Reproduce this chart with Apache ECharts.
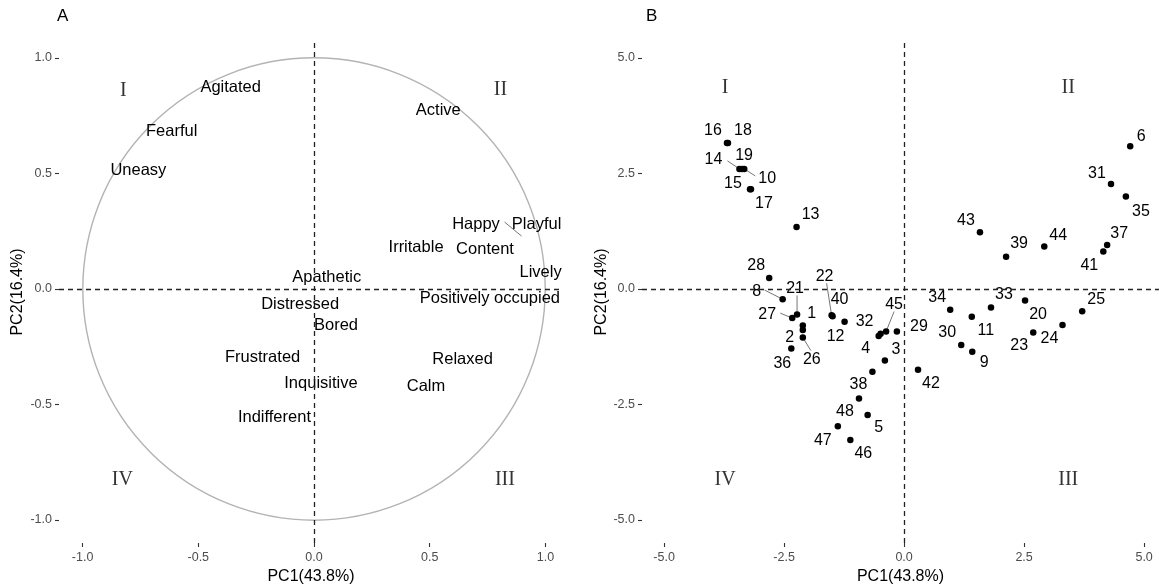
<!DOCTYPE html>
<html>
<head>
<meta charset="utf-8">
<script src="https://cdn.jsdelivr.net/npm/echarts@6/dist/echarts.min.js"></script>
<style>html,body{margin:0;padding:0;background:#fff;}#c{width:1159px;height:584px;}</style>
</head>
<body>
<div id="c"></div>
<script>
// ---------- DATA ----------
const pc1Title = 'PC1(43.8%)';
const pc2Title = 'PC2(16.4%)';
const panelLetters = ['A', 'B'];
const quadrantNames = ['I', 'II', 'III', 'IV'];

// Panel A: variable (behaviour) positions on PC1/PC2
const variableNames = ['Agitated','Fearful','Uneasy','Active','Happy','Playful','Irritable','Content','Lively','Apathetic','Positively occupied','Distressed','Bored','Frustrated','Relaxed','Inquisitive','Calm','Indifferent'];
const variablePC1 = [-0.36,-0.615,-0.759,0.537,0.70,0.962,0.441,0.739,0.979,0.055,0.760,-0.060,0.095,-0.222,0.642,0.030,0.484,-0.171];
const variablePC2 = [0.873,0.684,0.512,0.771,0.281,0.281,0.179,0.172,0.072,0.052,-0.040,-0.065,-0.159,-0.296,-0.304,-0.411,-0.420,-0.557];
const happyPointPC1 = 0.897, happyPointPC2 = 0.229;
const circleRadius = 1;
const quadrantPC1A = [-0.824, 0.806, 0.825, -0.828];
const quadrantPC2A = [0.857, 0.861, -0.827, -0.827];
const ticksA = [-1, -0.5, 0, 0.5, 1];

// Panel B: individual scores
const sampleIds = ['1','2','3','4','5','6','8','9','10','11','12','13','14','15','16','17','18','19','20','21','22','23','24','25','26','27','28','29','30','31','32','33','34','35','36','37','38','39','40','41','42','43','44','45','46','47','48'];
const samplePC1 = [-2.11,-2.11,-0.40,-0.53,-0.76,4.71,-2.53,1.42,-3.33,1.41,-1.24,-2.24,-3.43,-3.21,-3.69,-3.19,-3.67,-3.375,2.52,-2.23,-1.51,2.69,3.30,3.71,-2.11,-2.33,-2.81,-0.15,1.19,4.31,-0.49,1.81,0.96,4.62,-2.35,4.23,-0.66,2.125,-1.49,4.15,0.29,1.58,2.92,-0.375,-1.12,-1.38,-0.94];
const samplePC2 = [-0.79,-0.89,-1.55,-1.02,-2.73,3.09,-0.22,-1.36,2.60,-0.60,-0.71,1.34,2.60,2.16,3.16,2.16,3.16,2.60,-0.25,-0.55,-0.57,-0.94,-0.78,-0.48,-1.05,-0.63,0.24,-0.92,-1.21,2.27,-0.97,-0.40,-0.45,2.00,-1.29,0.95,-1.79,0.70,-0.59,0.81,-1.75,1.23,0.92,-0.92,-3.27,-2.97,-2.37];
const quadrantPC1B = [-3.73, 3.42, 3.42, -3.73];
const quadrantPC2B = [4.35, 4.35, -4.13, -4.13];
const ticksB = [-5, -2.5, 0, 2.5, 5];

// ---------- LAYOUT / STYLE (pixel offsets of repelled labels) ----------
const labelOffsetB = {
 '1':[9,-12],'2':[-13,7],'3':[11,-11],'4':[-13,12],'5':[11,12],'6':[11,-10],'8':[-26,-8],'9':[12,11],'10':[23,10],
 '11':[14,14],'12':[-9,15],'13':[14,-12],'14':[-26,-9],'15':[-17,-6],'16':[-14,-12],'17':[13,14],'18':[15,-12],'19':[2,-13],
 '20':[13,14],'21':[-2,-26],'22':[-7,-39],'23':[-14,13],'24':[-13,14],'25':[14,-12],'26':[9,22],'27':[-25,-4],'28':[-13,-12],
 '29':[22,-5],'30':[-14,-12],'31':[-14,-11],'32':[-16,-12],'33':[13,-13],'34':[-13,-12],'35':[15,15],'36':[-9,15],'37':[12,-12],
 '38':[-14,13],'39':[13,-13],'40':[7,-17],'41':[-14,14],'42':[13,14],'43':[-14,-12],'44':[14,-11],'45':[8,-27],'46':[13,14],
 '47':[-15,14],'48':[-14,13]
};
const segmentEndB = {'8':[-18,-9],'21':[0,-19],'27':[-12,-5],'26':[8,13],'22':[-5,-32],'45':[8,-20],'14':[-12,-8],'10':[11,7]};
const happySegmentEnd = [-17,-14];

const FONT = '"Liberation Sans", Arial, Helvetica, sans-serif';
const SERIF = '"Liberation Serif", "Times New Roman", serif';

// ---------- BUILD ----------
const chart = echarts.init(document.getElementById('c'), null, {renderer: 'canvas'});

function axisCommon(ticks, gridIndex, min, max, name, gap, isY) {
  return {
    gridIndex, type: 'value', min, max,
    axisLine: {show: false, onZero: false},
    splitLine: {show: false},
    axisTick: {show: true, length: 4, customValues: ticks, lineStyle: {color: '#333', width: 1.1}},
    axisLabel: {customValues: ticks, formatter: v => v.toFixed(1), color: '#4d4d4d', fontSize: 12.5, margin: isY ? 7 : 8, fontFamily: FONT},
    name, nameLocation: 'middle', nameGap: gap,
    nameTextStyle: {fontSize: 16, color: '#000', fontFamily: FONT}
  };
}

const dashedLines = {
  silent: true, symbol: ['none', 'none'], label: {show: false},
  lineStyle: {type: [5, 4], color: '#222', width: 1.3, opacity: 1},
  emphasis: {disabled: true},
  data: [{xAxis: 0}, {yAxis: 0}]
};

const segIds = Object.keys(segmentEndB);
const segData = segIds.map(id => { const i = sampleIds.indexOf(id); return [samplePC1[i], samplePC2[i], i]; });

const labelStyle = {show: true, position: 'inside', formatter: p => p.name, color: '#000', opacity: 1, fontSize: 16.5, fontFamily: FONT, align: 'center', verticalAlign: 'middle'};

const option = {
  animation: false,
  backgroundColor: '#fff',
  grid: [
    {left: 59, top: 41, width: 504, height: 502, containLabel: false, outerBoundsMode: 'none'},
    {left: 642, top: 41, width: 517, height: 502, containLabel: false, outerBoundsMode: 'none'}
  ],
  xAxis: [
    axisCommon(ticksA, 0, -1.102, 1.076, pc1Title, 24, false),
    axisCommon(ticksB, 1, -5.46, 5.31, pc1Title, 24, false)
  ],
  yAxis: [
    axisCommon(ticksA, 0, -1.0996, 1.0736, pc2Title, 33, true),
    axisCommon(ticksB, 1, -5.498, 5.368, pc2Title, 21, true)
  ],
  graphic: [
    {type: 'text', left: 57, top: 8, style: {text: panelLetters[0], fill: '#000', font: '17px ' + FONT}},
    {type: 'text', left: 646, top: 8, style: {text: panelLetters[1], fill: '#000', font: '17px ' + FONT}}
  ],
  series: [
    // correlation circle
    {
      type: 'custom', xAxisIndex: 0, yAxisIndex: 0, silent: true, z: 1,
      data: [[0, 0, circleRadius]],
      renderItem: (params, api) => {
        const c = api.coord([api.value(0), api.value(1)]);
        const s = api.size([api.value(2), api.value(2)]);
        return {type: 'circle', shape: {cx: c[0], cy: c[1], r: (s[0] + s[1]) / 2},
                style: {fill: 'none', stroke: '#b3b3b3', lineWidth: 1.4}};
      },
      markLine: dashedLines
    },
    // Happy repel segment
    {
      type: 'custom', xAxisIndex: 0, yAxisIndex: 0, silent: true, z: 2,
      data: [[happyPointPC1, happyPointPC2]],
      renderItem: (params, api) => {
        const p = api.coord([api.value(0), api.value(1)]);
        return {type: 'line', shape: {x1: p[0], y1: p[1], x2: p[0] + happySegmentEnd[0], y2: p[1] + happySegmentEnd[1]},
                style: {stroke: '#666', lineWidth: 0.9}};
      }
    },
    // variable labels
    {
      type: 'scatter', xAxisIndex: 0, yAxisIndex: 0, silent: true, z: 3,
      symbolSize: 1, itemStyle: {color: 'rgba(0,0,0,0)', opacity: 1},
      data: variableNames.map((n, i) => ({value: [variablePC1[i], variablePC2[i]], name: n})),
      label: labelStyle
    },
    // quadrant numerals A
    {
      type: 'scatter', xAxisIndex: 0, yAxisIndex: 0, silent: true, z: 3,
      symbolSize: 1, itemStyle: {color: 'rgba(0,0,0,0)', opacity: 1},
      data: quadrantNames.map((n, i) => ({value: [quadrantPC1A[i], quadrantPC2A[i]], name: n})),
      label: Object.assign({}, labelStyle, {color: '#333', fontSize: 20, fontFamily: SERIF})
    },
    // Panel B dashed lines + segments
    {
      type: 'custom', xAxisIndex: 1, yAxisIndex: 1, silent: true, z: 2,
      data: segData,
      renderItem: (params, api) => {
        const p = api.coord([api.value(0), api.value(1)]);
        const off = segmentEndB[sampleIds[api.value(2)]];
        return {type: 'line', shape: {x1: p[0], y1: p[1], x2: p[0] + off[0], y2: p[1] + off[1]},
                style: {stroke: '#666', lineWidth: 0.9}};
      },
      markLine: dashedLines
    },
    // sample points
    {
      type: 'scatter', xAxisIndex: 1, yAxisIndex: 1, silent: true, z: 4,
      symbol: 'circle', symbolSize: 6.5, itemStyle: {color: '#000', opacity: 1},
      data: sampleIds.map((id, i) => ({
        value: [samplePC1[i], samplePC2[i]], name: id,
        label: {offset: labelOffsetB[id] || [12, -12]}
      })),
      label: Object.assign({}, labelStyle, {fontSize: 16})
    },
    // quadrant numerals B
    {
      type: 'scatter', xAxisIndex: 1, yAxisIndex: 1, silent: true, z: 3,
      symbolSize: 1, itemStyle: {color: 'rgba(0,0,0,0)', opacity: 1},
      data: quadrantNames.map((n, i) => ({value: [quadrantPC1B[i], quadrantPC2B[i]], name: n})),
      label: Object.assign({}, labelStyle, {color: '#333', fontSize: 20, fontFamily: SERIF})
    }
  ]
};
chart.setOption(option);
</script>
</body>
</html>
